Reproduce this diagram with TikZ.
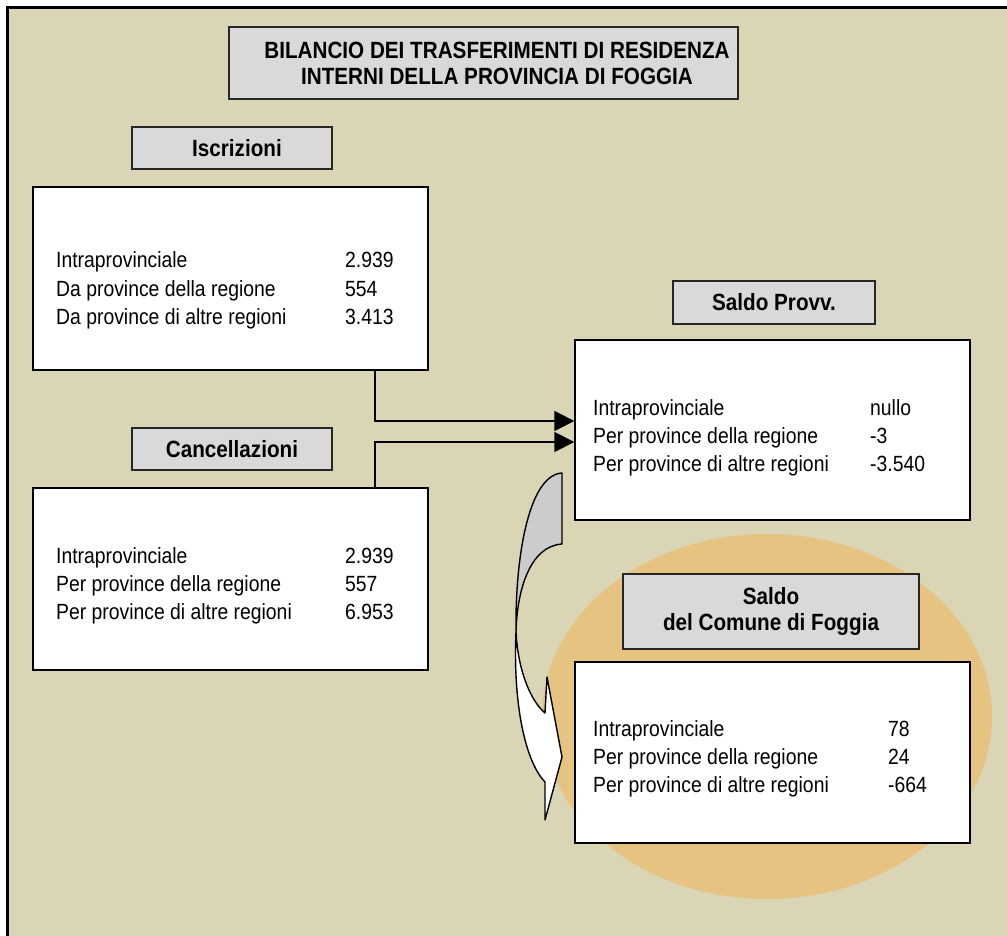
\documentclass[tikz,border=0pt]{standalone}
\usepackage{fontspec}
\usetikzlibrary{arrows.meta}
\setmainfont[FakeStretch=0.88]{Liberation Sans}
\definecolor{bg}{RGB}{217,213,181}
\definecolor{hdrgray}{RGB}{217,217,217}
\definecolor{orangeell}{RGB}{230,195,128}
\definecolor{arrgray}{RGB}{204,204,204}
\begin{document}
\begin{tikzpicture}[x=1pt,y=-1pt,
  hdr/.style={draw=black!85, line width=1.3pt, fill=hdrgray, inner sep=0pt, align=center,
    font=\bfseries\fontsize{23.5}{26}\selectfont},
  hdrtext/.style={inner sep=0pt, align=center, font=\bfseries\fontsize{23.5}{26}\selectfont},
  databox/.style={draw=black, line width=1.3pt, fill=white, inner sep=0pt},
  lbl/.style={anchor=base west, inner sep=0pt, font=\fontsize{22}{26}\selectfont},
  conn/.style={line width=1.4pt, -{Triangle[length=20pt,width=20pt]}},
  barrow/.style={draw=black, line width=1.4pt, line join=round}
]
\useasboundingbox (0,0) rectangle (1007,936);
\clip (0,0) rectangle (1007,936);
% background
\fill[bg] (7,8) rectangle (1030,960);
\draw[black, line width=3pt] (1030,8) -- (7,8) -- (7,960);
% ellipse
\fill[orangeell] (767,716.5) ellipse [x radius=225, y radius=182.5];
% title
\node[hdr, minimum width=509pt, minimum height=72pt] (title) at (483.5,63) {};
\node[hdrtext] (titletext) at (497,63)
  {BILANCIO DEI TRASFERIMENTI DI RESIDENZA\\INTERNI DELLA PROVINCIA DI FOGGIA};
% Iscrizioni
\node[hdr, minimum width=200pt, minimum height=42pt] (ischdr) at (232,148) {};
\node[hdrtext] (ischdrtext) at (237,148) {Iscrizioni};
\node[databox, minimum width=395pt, minimum height=183pt] (isc) at (230.5,278.5) {};
\node[lbl] (isc1) at (56,268) {Intraprovinciale};
\node[lbl] (isc2) at (56,296) {Da province della regione};
\node[lbl] (isc3) at (56,324) {Da province di altre regioni};
\node[lbl] (iscv1) at (345,268) {2.939};
\node[lbl] (iscv2) at (345,296) {554};
\node[lbl] (iscv3) at (345,324) {3.413};
% Cancellazioni
\node[hdr, minimum width=200pt, minimum height=42pt] (canhdr) at (232,449) {Cancellazioni};
\node[databox, minimum width=395pt, minimum height=182pt] (can) at (230.5,579) {};
\node[lbl] (can1) at (56,563) {Intraprovinciale};
\node[lbl] (can2) at (56,591) {Per province della regione};
\node[lbl] (can3) at (56,619) {Per province di altre regioni};
\node[lbl] (canv1) at (345,563) {2.939};
\node[lbl] (canv2) at (345,591) {557};
\node[lbl] (canv3) at (345,619) {6.953};
% Saldo Provv.
\node[hdr, minimum width=202pt, minimum height=43pt] (sphdr) at (774,302.5) {Saldo Provv.};
\node[databox, minimum width=395pt, minimum height=180pt] (sp) at (772.5,430) {};
\node[lbl] (sp1) at (593,415) {Intraprovinciale};
\node[lbl] (sp2) at (593,443) {Per province della regione};
\node[lbl] (sp3) at (593,471) {Per province di altre regioni};
\node[lbl] (spv1) at (870,415) {nullo};
\node[lbl] (spv2) at (870,443) {-3};
\node[lbl] (spv3) at (870,471) {-3.540};
% Saldo Comune
\node[hdr, minimum width=296pt, minimum height=75pt] (schdr) at (771,611.5) {Saldo\\del Comune di Foggia};
\node[databox, minimum width=395pt, minimum height=181pt] (sc) at (772.5,752.5) {};
\node[lbl] (sc1) at (593,736) {Intraprovinciale};
\node[lbl] (sc2) at (593,764) {Per province della regione};
\node[lbl] (sc3) at (593,792) {Per province di altre regioni};
\node[lbl] (scv1) at (888,736) {78};
\node[lbl] (scv2) at (888,764) {24};
\node[lbl] (scv3) at (888,792) {-664};
% connectors
\coordinate (k1) at (375,421);
\coordinate (k2) at (375,442);
\draw[conn] (isc.south -| k1) -- (k1) -- (sp.west |- k1);
\draw[conn] (can.north -| k2) -- (k2) -- (sp.west |- k2);
% curved block arrow
\coordinate (A) at (562,473);
\coordinate (B) at (562,544);
\coordinate (C) at (516,632);
\coordinate (D) at (545,782);
\coordinate (E) at (545,820);
\coordinate (F) at (562,757);
\coordinate (G) at (547,677);
\coordinate (H) at (545,713);
\filldraw[barrow, fill=white] (C) .. controls (513,700) and (524,760) .. (D)
  -- (E) -- (F) -- (G) -- (H) .. controls (530,700) and (518,670) .. (C) -- cycle;
\filldraw[barrow, fill=arrgray] (A) .. controls (528,475) and (515,560) .. (C)
  .. controls (517,590) and (530,546) .. (B) -- cycle;
\end{tikzpicture}
\end{document}
